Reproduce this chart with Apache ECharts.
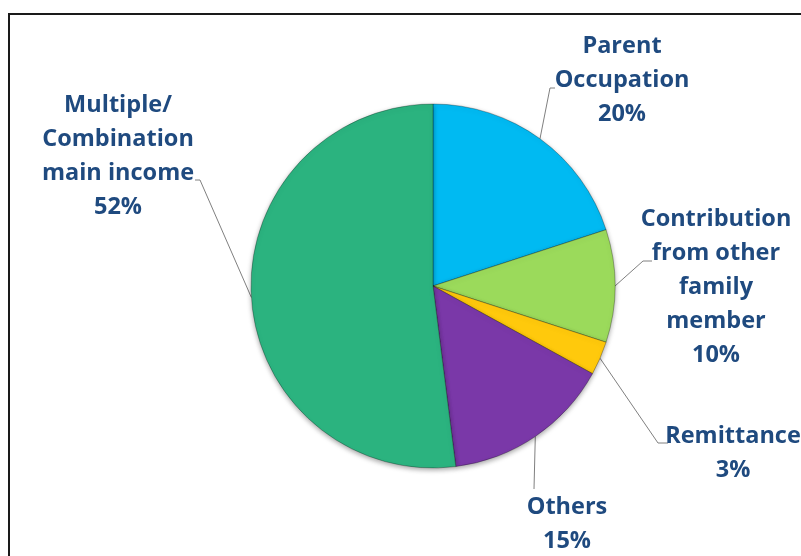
<!DOCTYPE html>
<html>
<head>
<meta charset="utf-8">
<title>Main income source</title>
<script src="https://cdn.jsdelivr.net/npm/echarts@6/dist/echarts.min.js"></script>
<style>
  html, body { margin: 0; padding: 0; background: #ffffff; }
  #chart { width: 801px; height: 556px; }
</style>
</head>
<body>
<div id="chart"></div>
<script>
// Income source categories, listed clockwise from 12 o'clock
const categories = [
  'Parent\nOccupation',
  'Contribution\nfrom other\nfamily\nmember',
  'Remittance',
  'Others',
  'Multiple/\nCombination\nmain income'
];
// Share of respondents, in percent
const shares = [20, 10, 3, 15, 52];
const sliceColors = ['#00BAF2', '#9BDA5B', '#FFC90C', '#7A38A8', '#2BB37F'];

// Where each label block sits and how its leader line bends
const labelSpots = [
  { x: 622, y: 80,  knee: [550, 88],  end: [555, 88] },
  { x: 716, y: 287, knee: [643, 261], end: [652, 261] },
  { x: 733, y: 453, knee: [658, 443], end: [668, 443] },
  { x: 567, y: 524, knee: [534, 489], end: [534, 489] },
  { x: 118, y: 156, knee: [200, 180], end: [195, 180] }
];

const chart = echarts.init(document.getElementById('chart'), null, { renderer: 'canvas' });

chart.setOption({
  backgroundColor: '#ffffff',
  animation: false,
  graphic: [{
    type: 'rect',
    shape: { x: 9, y: 14, width: 1000, height: 1000 },
    style: { fill: 'none', stroke: '#1a1a1a', lineWidth: 2 },
    silent: true
  }],
  series: [{
    type: 'pie',
    center: [433, 286],
    radius: 182,
    startAngle: 90,
    clockwise: true,
    avoidLabelOverlap: false,
    itemStyle: {
      borderColor: 'rgba(0,0,0,0.28)',
      borderWidth: 1,
      shadowBlur: 5,
      shadowOffsetY: 2,
      shadowColor: 'rgba(0,0,0,0.35)'
    },
    label: {
      show: true,
      position: 'outside',
      formatter: '{b}\n{c}%',
      color: '#1F4A7F',
      fontFamily: '"Open Sans", Lato, sans-serif',
      fontWeight: 'bold',
      fontSize: 23.5,
      lineHeight: 34,
      align: 'center'
    },
    labelLine: {
      show: true,
      length: 10,
      length2: 10,
      lineStyle: { color: '#808080', width: 1 }
    },
    labelLayout: function (params) {
      const spot = labelSpots[params.dataIndex];
      const start = params.labelLinePoints ? params.labelLinePoints[0] : spot.knee;
      return {
        x: spot.x,
        y: spot.y,
        align: 'center',
        verticalAlign: 'middle',
        labelLinePoints: [start, spot.knee, spot.end]
      };
    },
    data: categories.map(function (name, i) {
      return { name: name, value: shares[i], itemStyle: { color: sliceColors[i] } };
    })
  }]
});
</script>
</body>
</html>
